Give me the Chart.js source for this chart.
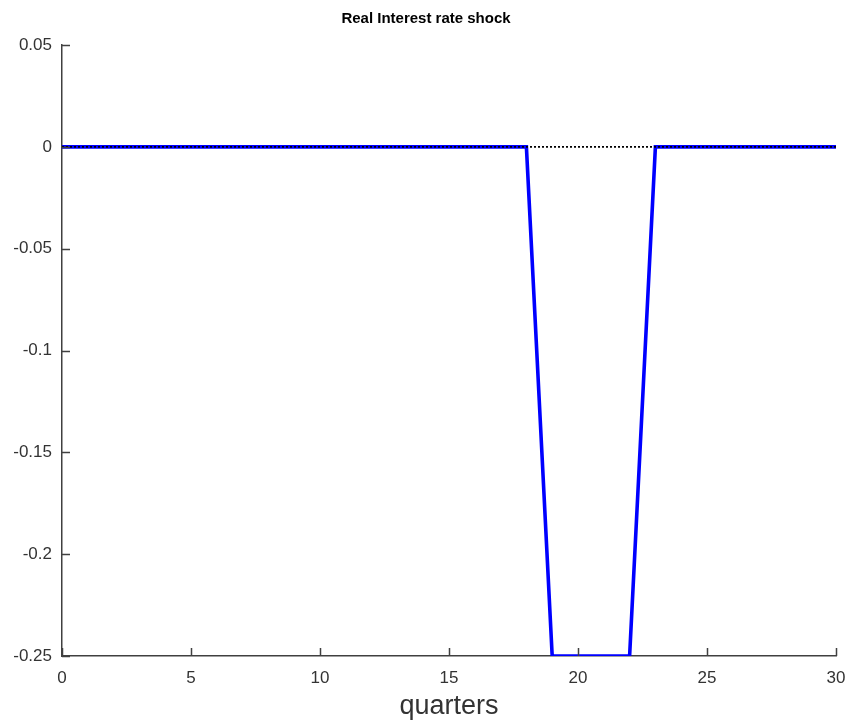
<!DOCTYPE html>
<html>
<head>
<meta charset="utf-8">
<script src="https://cdn.jsdelivr.net/npm/chart.js@4/dist/chart.umd.min.js"></script>
<style>
  html, body { margin: 0; padding: 0; background: #fff; }
  #wrap { width: 852px; height: 723px; }
</style>
</head>
<body>
<div id="wrap"><canvas id="c" width="852" height="723"></canvas></div>
<script>
// Impulse response of the real interest rate to the shock, by quarter
const quarters = [0,1,2,3,4,5,6,7,8,9,10,11,12,13,14,15,16,17,18,19,20,21,22,23,24,25,26,27,28,29,30];
const rateResponse = [0,0,0,0,0,0,0,0,0,0,0,0,0,0,0,0,0,0,0,-0.25,-0.25,-0.25,-0.25,0,0,0,0,0,0,0,0];
const zeroLine = quarters.map(() => 0);

const xTicks = [0, 5, 10, 15, 20, 25, 30];
const yTicks = [-0.25, -0.2, -0.15, -0.1, -0.05, 0, 0.05];

const axisColor = '#404040';
const textColor = '#333333';
const fontFamily = '"Liberation Sans", Arial, Helvetica, sans-serif';

// Inward-pointing tick marks along the left and bottom axes
const inwardTicks = {
  id: 'inwardTicks',
  afterDraw(chart) {
    const ctx = chart.ctx;
    const xs = chart.scales.x, ys = chart.scales.y;
    const len = 8;
    ctx.save();
    ctx.strokeStyle = axisColor;
    ctx.lineWidth = 1.5;
    ctx.beginPath();
    xTicks.forEach(v => {
      const px = Math.round(xs.getPixelForValue(v)) + 0.5;
      ctx.moveTo(px, xs.top);
      ctx.lineTo(px, xs.top - len);
    });
    yTicks.forEach(v => {
      const py = Math.round(ys.getPixelForValue(v)) + 0.5;
      ctx.moveTo(ys.right, py);
      ctx.lineTo(ys.right + len, py);
    });
    ctx.stroke();
    ctx.restore();
  }
};

new Chart(document.getElementById('c'), {
  type: 'line',
  data: {
    labels: quarters,
    datasets: [
      {
        label: 'steady state',
        data: quarters.map((q, i) => ({ x: q, y: zeroLine[i] })),
        borderColor: '#000000',
        borderWidth: 1.8,
        borderDash: [2, 2],
        pointRadius: 0,
        fill: false,
        tension: 0,
        order: 0
      },
      {
        label: 'real interest rate',
        data: quarters.map((q, i) => ({ x: q, y: rateResponse[i] })),
        borderColor: '#0000ff',
        borderWidth: 3.6,
        pointRadius: 0,
        fill: false,
        tension: 0,
        order: 1
      }
    ]
  },
  options: {
    responsive: false,
    animation: false,
    layout: { padding: 0 },
    plugins: {
      legend: { display: false },
      tooltip: { enabled: false },
      title: {
        display: true,
        text: 'Real Interest rate shock',
        color: '#000000',
        font: { family: fontFamily, size: 15, weight: 'bold', lineHeight: 1.2 },
        padding: { top: 10, bottom: 17 }
      }
    },
    scales: {
      x: {
        type: 'linear',
        min: 0,
        max: 30,
        afterBuildTicks(scale) { scale.ticks = xTicks.map(v => ({ value: v })); },
        afterFit(scale) {
          scale.height = 67;
          scale.paddingLeft = 0;
          scale.paddingRight = 16;
        },
        grid: { display: false, drawTicks: false },
        border: { display: true, color: axisColor, width: 1.5 },
        ticks: {
          color: textColor,
          padding: 12,
          maxRotation: 0,
          font: { family: fontFamily, size: 17 },
          callback: v => String(v)
        },
        title: {
          display: true,
          text: 'quarters',
          color: textColor,
          font: { family: fontFamily, size: 27 },
          padding: { top: 7, bottom: 0 }
        }
      },
      y: {
        type: 'linear',
        min: -0.25,
        max: 0.05,
        afterBuildTicks(scale) { scale.ticks = yTicks.map(v => ({ value: v })); },
        afterFit(scale) { scale.width = 62; },
        grid: { display: false, drawTicks: false },
        border: { display: true, color: axisColor, width: 1.5 },
        ticks: {
          color: textColor,
          padding: 10,
          font: { family: fontFamily, size: 17 },
          callback: v => String(+Number(v).toFixed(2))
        }
      }
    }
  },
  plugins: [inwardTicks]
});
</script>
</body>
</html>
